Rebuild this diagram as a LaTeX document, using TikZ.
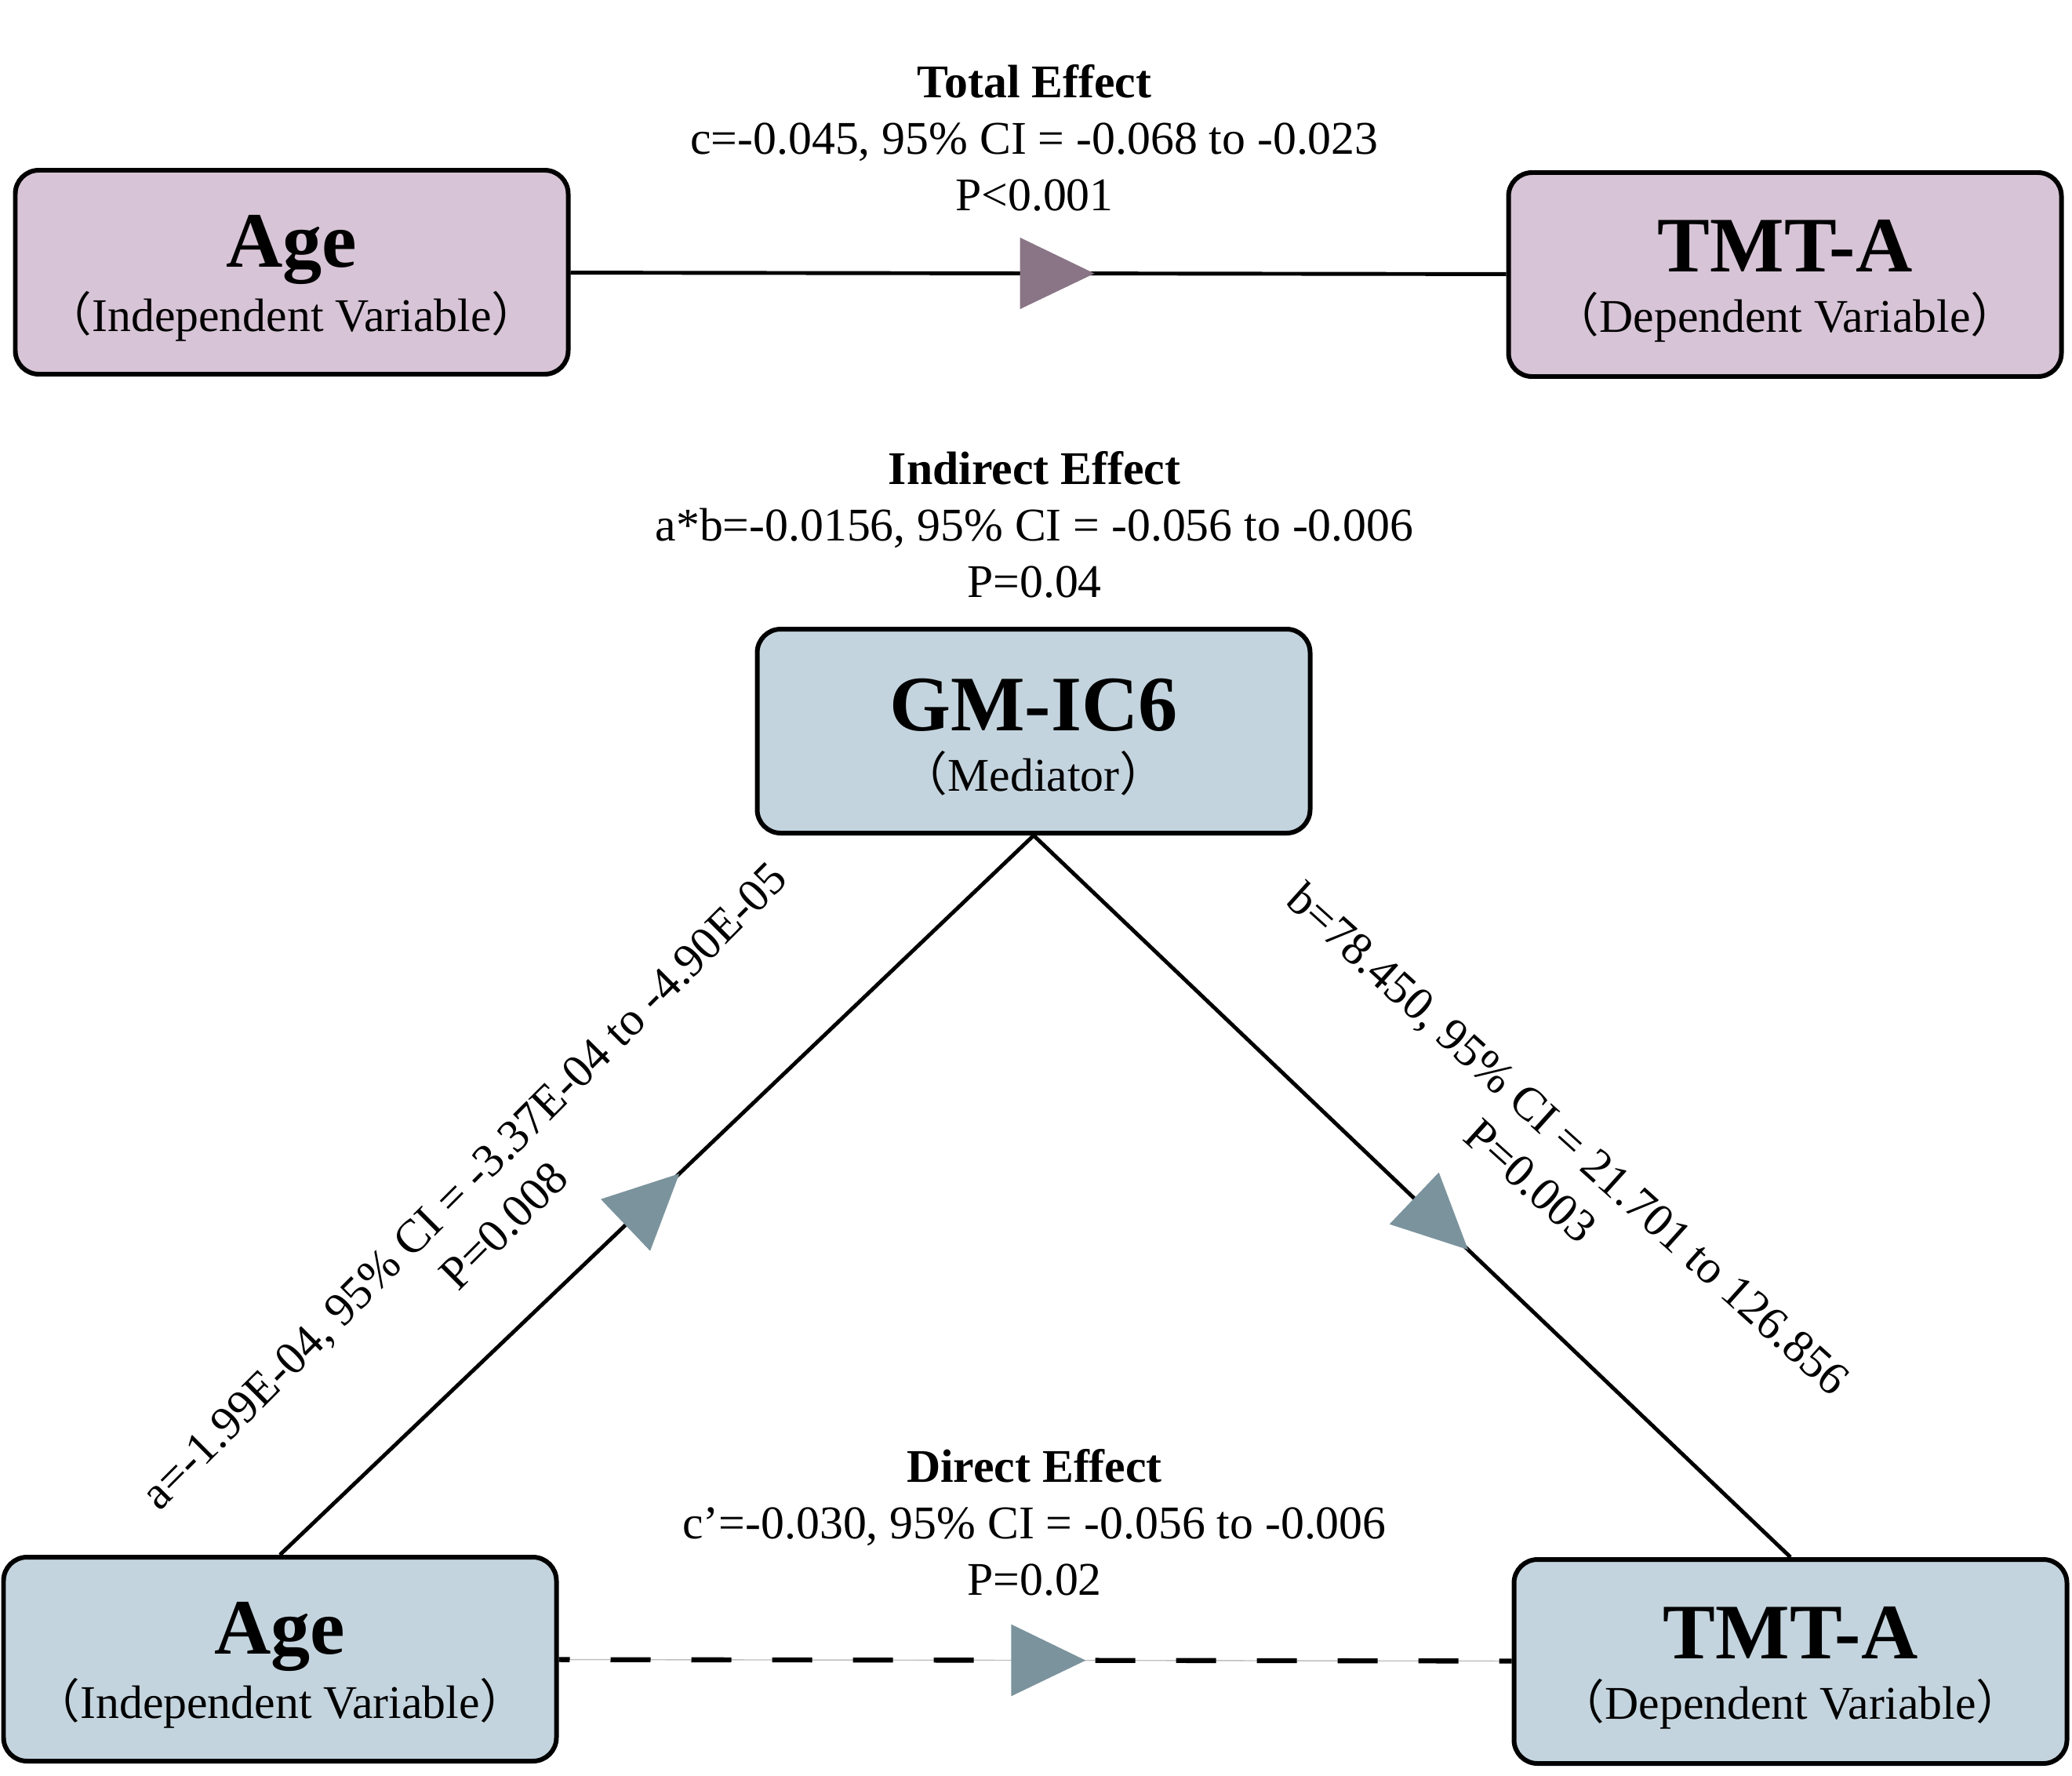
\documentclass[tikz,border=0pt]{standalone}
\usepackage{fontspec}
\setmainfont{Liberation Serif}
\newfontfamily\cjk{Noto Sans CJK SC}
\usepackage{tikz}
\usetikzlibrary{positioning,arrows.meta,decorations.markings}
\usepackage{xcolor}
\definecolor{boxpurple}{HTML}{D7C4D6}
\definecolor{boxblue}{HTML}{C4D4DE}
\definecolor{tippurple}{HTML}{897586}
\definecolor{tipblue}{HTML}{7B939D}
\newcommand{\varbox}[2]{{\fontsize{28.5}{30}\selectfont\bfseries\raisebox{0pt}[\dimexpr\height+4.5pt][\depth]{#1}}\\[1.5pt]{\cjk （}#2{\cjk ）}}

\begin{document}
\begin{tikzpicture}[
  varnode/.style={draw,line width=1.7pt,rounded corners=0.3cm,minimum width=7.05cm,minimum height=2.6cm,align=center,font=\fontsize{17}{20.4}\selectfont},
  effect/.style={align=center,font=\fontsize{17}{20.4}\selectfont},
  link/.style={line width=1.4pt},
  ptip/.style={postaction={decorate},decoration={markings,mark=at position #1 with {\arrow{Triangle[length=0.95cm,width=0.9cm,color=tippurple]}}}},
  btip/.style={postaction={decorate},decoration={markings,mark=at position #1 with {\arrow{Triangle[length=0.95cm,width=0.9cm,color=tipblue]}}}}
]
\useasboundingbox (0,0) rectangle (26.42,-22.63);
\node[varnode,fill=boxpurple] (age1) at (3.72,-3.47) {\varbox{Age}{Independent Variable}};
\node[varnode,fill=boxpurple] (tmt1) at (22.76,-3.50) {\varbox{TMT-A}{Dependent Variable}};
\node[varnode,fill=boxblue] (med) at (13.18,-9.32) {\varbox{GM-IC6}{Mediator}};
\node[varnode,fill=boxblue] (age2) at (3.57,-21.15) {\varbox{Age}{Independent Variable}};
\node[varnode,fill=boxblue] (tmt2) at (22.83,-21.18) {\varbox{TMT-A}{Dependent Variable}};

\draw[link,ptip=0.56] (age1) -- (tmt1);
\draw[link,btip=0.53] (age2.north) -- (med.south);
\draw[link,btip=0.574] (med.south) -- (tmt2.north);
\draw[gray!50,line width=0.4pt] (age2) -- (tmt2);
\draw[link,line width=1.8pt,dash pattern=on 0.51cm off 0.52cm,dash phase=0.37cm,btip=0.553] (age2) -- (tmt2);

\node[effect] (tot) at (13.19,-1.76) {\textbf{Total Effect}\\c=-0.045, 95\% CI = -0.068 to -0.023\\P<0.001};
\node[effect] (ind) at (13.19,-6.69) {\textbf{Indirect Effect}\\a*b=-0.0156, 95\% CI = -0.056 to -0.006\\P=0.04};
\node[effect] (dir) at (13.19,-19.41) {\textbf{Direct Effect}\\c’=-0.030, 95\% CI = -0.056 to -0.006\\P=0.02};
\node[effect,rotate=45] (apath) at (6.17,-15.37) {a=-1.99E-04, 95\% CI = -3.37E-04 to -4.90E-05\\P=0.008};
\node[effect,rotate=-42] (bpath) at (19.76,-14.78) {b=78.450, 95\% CI = 21.701 to 126.856\\P=0.003};
\end{tikzpicture}
\end{document}
